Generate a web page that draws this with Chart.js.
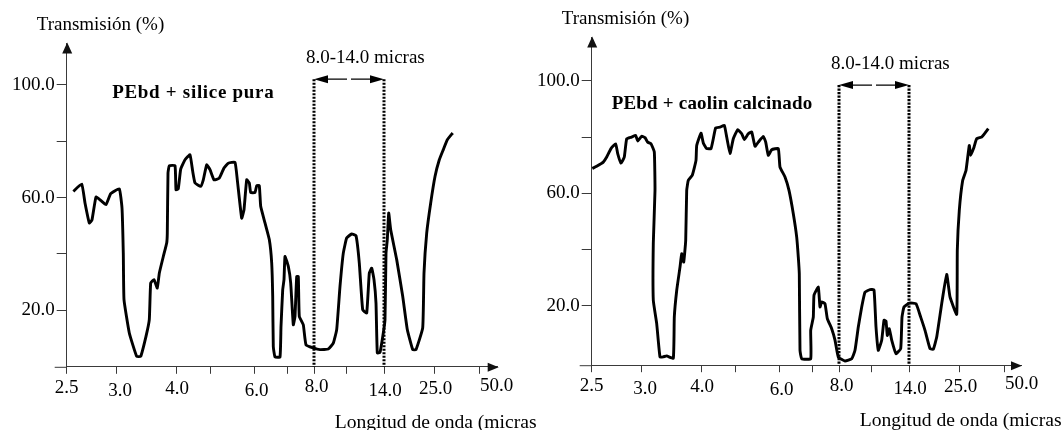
<!DOCTYPE html>
<html>
<head>
<meta charset="utf-8">
<script src="https://cdn.jsdelivr.net/npm/chart.js@4/dist/chart.umd.min.js"></script>
<style>
  html, body { margin: 0; padding: 0; background: #fff; }
  #wrap { position: relative; width: 1062px; height: 430px; overflow: hidden; background: #fff; }
  .panel { position: absolute; top: 0; }
</style>
</head>
<body>
<div id="wrap">
  <div class="panel" style="left:0px;"><canvas id="c1" width="536" height="430"></canvas></div>
  <div class="panel" style="left:531px;"><canvas id="c2" width="531" height="430"></canvas></div>
</div>
<script>
// ---------------- DATA ----------------
// x axis: position along the (non-linear) wavelength axis, in axis units; ticks below
const xTickPos    = [0, 49.5, 109.3, 143.3, 187.3, 220.6, 247.3, 280, 317.3, 367.3, 412.5];
const xTickLabels = ['2.5', '3.0', '4.0', '', '6.0', '', '8.0', '', '14.0', '25.0', '50.0'];
const yTickVals   = [20, 40, 60, 80, 100];
const yTickLabels = ['20.0', '', '60.0', '', '100.0'];
const bandLabels  = ['8.0', '14.0'];

// PEbd + silice pura
const silicaX = [6.6, 15, 18.3, 22.6, 25.3, 29.3, 34, 39.3, 44, 52.6, 55.3, 56.6, 57.3, 62.6, 70, 74, 79.3, 82.6, 84, 87.3,
  90.6, 92.6, 96.6, 100, 100.6, 101.3, 102.6, 108.3, 109.3, 111.6, 114, 118.3, 123.3, 126, 128.3, 134, 136.6, 140, 143.3, 147.3,
  152.6, 157.3, 161.6, 168.3, 170.6, 175, 177.3, 180, 182.6, 184, 188.3, 190, 192.6, 194, 198.3, 202.6, 205, 206, 206.6, 208.3,
  213.3, 214.3, 216, 217.3, 218.3, 221.6, 224, 226.6, 228.3, 230, 231.6, 232.6, 236.6, 239.3, 246.6, 253.3, 261.6, 266.6, 270, 273.3,
  276.6, 280, 285, 289.3, 292.6, 296, 300, 302.6, 305, 307.3, 309.3, 310.6, 313.3, 316.6, 318.3, 319.3, 320.6, 322, 324, 330,
  336, 340.6, 346, 349.3, 356, 357.3, 360, 364, 368.3, 372.6, 376.6, 380.6, 386];
const silicaY = [62.2, 64.8, 58.1, 51.0, 52.1, 60.2, 59.0, 57.5, 61.4, 63.1, 56.3, 40.3, 23.8, 12.0, 3.7, 3.7, 10.8, 16.7, 29.7, 30.9,
  27.9, 33.2, 39.1, 43.9, 47.4, 68.7, 71.3, 71.3, 62.8, 63.2, 70.1, 73.4, 75.2, 69.3, 65.2, 64.0, 66.3, 71.6, 69.9, 66.3,
  66.9, 70.5, 72.2, 72.5, 66.3, 52.7, 55.7, 66.3, 65.2, 61.8, 61.8, 64.2, 64.2, 56.9, 51.0, 45.1, 36.8, 25.0, 7.2, 3.5,
  3.5, 14.3, 27.3, 30.9, 39.1, 35.6, 29.7, 14.9, 17.9, 32.0, 32.0, 17.9, 14.9, 7.8, 6.7, 6.1, 6.3, 8.4, 13.2, 28.5,
  40.3, 45.7, 47.1, 46.5, 36.8, 20.2, 19.1, 33.2, 35.0, 30.9, 22.6, 4.9, 5.1, 12.0, 16.7, 40.3, 45.1, 54.5, 48.6, 38.0,
  25.0, 13.2, 6.1, 6.1, 13.8, 33.2, 47.4, 58.1, 67.5, 73.4, 77.0, 80.5, 82.9];

// PEbd + caolin calcinado
const kaolinX = [0.6, 5, 11.6, 15, 19.3, 24, 26, 29.3, 32.6, 35, 40, 44, 46, 50, 53.3, 56, 59.3, 62.6, 63.3, 61.6,
  61.6, 65, 68.3, 71.6, 75, 81.6, 82.6, 85, 88.3, 90, 92, 94, 95, 96.6, 100.6, 104.3, 105, 109.3, 111.6, 115,
  119.3, 121.6, 124, 128.3, 132.6, 135, 138.3, 141.6, 146, 150, 152.6, 156.6, 160, 163.3, 166.6, 171.6, 174, 176.6, 180, 186.6,
  188.3, 193.3, 197.3, 201.6, 205, 206.6, 207.6, 208.3, 210, 219, 219, 221.6, 222.3, 226.6, 228.3, 230, 233.3, 235.6, 240, 243.3,
  246.6, 253.3, 260, 263.3, 266.6, 270, 273.3, 278.3, 282.3, 284.3, 286.6, 290, 292.3, 294.3, 295.6, 297.6, 300, 304.3, 309, 310.3,
  312.3, 317.6, 324.3, 329, 333.3, 338.3, 341.6, 345, 350, 355, 358.3, 365, 365.6, 367.6, 371, 374.3, 377.6, 379,
  382.3, 385, 390, 393.3, 396.6];
const kaolinY = [68.8, 69.6, 71.1, 72.9, 75.9, 77.6, 74.1, 70.7, 72.9, 79.4, 80.0, 80.6, 78.6, 80.3, 79.8, 78.2, 77.6, 74.7, 61.0, 42.1,
  21.9, 13.6, 1.7, 1.8, 2.1, 1.3, 15.9, 25.4, 33.7, 38.5, 35.5, 43.2, 61.0, 64.6, 66.4, 71.7, 77.0, 81.4, 77.9, 75.9,
  75.9, 79.4, 83.3, 83.5, 84.2, 80.0, 74.1, 79.4, 82.6, 81.2, 79.1, 81.2, 81.8, 76.7, 78.2, 80.2, 78.2, 73.5, 75.5, 75.9,
  69.3, 65.8, 61.0, 52.7, 44.4, 37.3, 31.4, 4.1, 1.1, 1.1, 11.2, 15.9, 23.7, 26.6, 19.5, 21.3, 20.7, 15.4, 11.8, 7.7,
  1.7, 0.3, 1.1, 4.1, 12.4, 19.5, 24.8, 25.7, 25.6, 12.4, 4.1, 7.7, 14.8, 14.5, 9.4, 11.8, 7.7, 2.9, 4.7, 15.9,
  19.5, 20.9, 20.7, 15.9, 11.2, 4.7, 4.5, 8.8, 20.7, 31.1, 23.1, 16.9, 39.7, 53.9, 64.6, 68.1, 77.0, 73.5,
  76.4, 79.4, 80.0, 81.4, 83.0];

// ---------------- TEXT ----------------
const yTitle = 'Transmisión (%)';
const xTitle = 'Longitud de onda (micras)';
const bandText = '8.0-14.0 micras';

// ---------------- LAYOUT (positions / styles only) ----------------
const FONT = '"Liberation Serif", "Times New Roman", Times, serif';
const FS = 19;
const xLabelDx = [0, 4, 1, 0, 2.7, 0, 2.5, 0, 1, 1.5, 17.5];
const xLabelDy = [21, 24, 22, 0, 24.5, 0, 20.7, 0, 24, 22, 19.2];

const panels = [
  { id: 'c1', W: 536, axisX: 66.7, xMax: 431, top: 43.6, bottom: 366.8, yMin: 0, yMax: 114.6,
    bandTop: 102, title: 'PEbd + silice pura', titleX: 126.6, titleY: 97, titleSpacing: 0.7,
    xs: silicaX, ys: silicaY },
  { id: 'c2', W: 531, axisX: 60.7, xMax: 429.3, top: 37.6, bottom: 365.2, yMin: -1.2, yMax: 115.4,
    bandTop: 98.5, title: 'PEbd + caolin calcinado', titleX: 120.3, titleY: 91.6, titleSpacing: 0.2,
    xs: kaolinX, ys: kaolinY }
];

const AXC = '#3a3a3a';

function arrowHead(ctx, tipX, tipY, dirX, dirY, len, half) {
  const bx = tipX - dirX * len, by = tipY - dirY * len;
  const px = -dirY, py = dirX;
  ctx.beginPath();
  ctx.moveTo(tipX, tipY);
  ctx.lineTo(bx + px * half, by + py * half);
  ctx.lineTo(bx - px * half, by - py * half);
  ctx.closePath();
  ctx.fill();
}

function decorPlugin(P) {
  return {
    id: 'decor',
    afterDraw(chart) {
      const ctx = chart.ctx;
      const xs = chart.scales.x, ys = chart.scales.y;
      const ca = chart.chartArea;
      const ax = xs.getPixelForValue(0);
      ctx.save();
      ctx.strokeStyle = AXC;
      // x axis extension left of the y axis
      ctx.lineWidth = 1;
      ctx.beginPath();
      ctx.moveTo(ax - 12, ca.bottom + 0.5);
      ctx.lineTo(ax, ca.bottom + 0.5);
      ctx.stroke();
      // axis arrows
      ctx.fillStyle = '#111';
      arrowHead(ctx, ax + 0.5, ca.top - 1, 0, -1, 11, 5);
      arrowHead(ctx, ca.right + 1, ca.bottom + 0.5, 1, 0, 11, 4.5);

      // band: dotted vertical lines
      const i8 = xTickLabels.indexOf(bandLabels[0]);
      const i14 = xTickLabels.indexOf(bandLabels[1]);
      const xL = xs.getPixelForValue(xTickPos[i8]);
      const xR = xs.getPixelForValue(xTickPos[i14]);
      const yT = ys.getPixelForValue(P.bandTop);
      ctx.strokeStyle = '#000';
      ctx.lineWidth = 3;
      ctx.setLineDash([2.2, 1.3]);
      [xL, xR].forEach(x => {
        ctx.beginPath();
        ctx.moveTo(x, yT);
        ctx.lineTo(x, ca.bottom);
        ctx.stroke();
      });
      ctx.setLineDash([]);
      // double arrow
      const mid = (xL + xR) / 2;
      ctx.lineWidth = 1.3;
      ctx.beginPath();
      ctx.moveTo(xL + 6, yT); ctx.lineTo(mid - 2, yT);
      ctx.moveTo(mid + 2, yT); ctx.lineTo(xR - 6, yT);
      ctx.stroke();
      ctx.fillStyle = '#000';
      arrowHead(ctx, xL, yT, -1, 0, 14, 4);
      arrowHead(ctx, xR, yT, 1, 0, 14, 4);

      // texts
      ctx.fillStyle = '#000';
      ctx.textBaseline = 'middle';
      ctx.font = FS + 'px ' + FONT;
      ctx.textAlign = 'left';
      ctx.fillText(yTitle, ax - 30, ca.top - 18.6);
      ctx.fillText(bandText, xL - 8, yT - 21);
      ctx.font = '19.6px ' + FONT;
      ctx.fillText(xTitle, xs.getPixelForValue(268), ca.bottom + 56);
      ctx.font = FS + 'px ' + FONT;
      // x tick labels
      ctx.textAlign = 'center';
      xTickLabels.forEach((lab, i) => {
        if (!lab) return;
        ctx.fillText(lab, xs.getPixelForValue(xTickPos[i]) + xLabelDx[i], ca.bottom + xLabelDy[i]);
      });
      // panel title
      ctx.font = 'bold ' + FS + 'px ' + FONT;
      try { ctx.letterSpacing = P.titleSpacing + 'px'; } catch (e) {}
      ctx.textAlign = 'center';
      ctx.fillText(P.title, xs.getPixelForValue(P.titleX), ys.getPixelForValue(P.titleY));
      try { ctx.letterSpacing = '0px'; } catch (e) {}
      ctx.restore();
    }
  };
}

panels.forEach(P => {
  const ctx = document.getElementById(P.id).getContext('2d');
  new Chart(ctx, {
    type: 'scatter',
    data: {
      datasets: [{
        data: P.xs.map((x, i) => ({ x: x, y: P.ys[i] })),
        showLine: true,
        borderColor: '#000',
        borderWidth: 2.9,
        pointRadius: 0,
        tension: 0.12,
        fill: false
      }]
    },
    options: {
      responsive: false,
      animation: false,
      devicePixelRatio: 1,
      layout: { padding: { left: 0, top: P.top, right: P.W - (P.axisX + P.xMax), bottom: 0 } },
      plugins: { legend: { display: false }, tooltip: { enabled: false } },
      scales: {
        x: {
          type: 'linear', min: 0, max: P.xMax,
          afterFit: s => { s.height = 430 - P.bottom; },
          afterBuildTicks: s => { s.ticks = xTickPos.map(v => ({ value: v })); },
          ticks: { display: false },
          grid: { drawOnChartArea: false, drawTicks: true, tickLength: 7, color: AXC, lineWidth: 1 },
          border: { display: true, color: AXC, width: 1 }
        },
        y: {
          type: 'linear', min: P.yMin, max: P.yMax,
          afterFit: s => { s.width = P.axisX; },
          afterBuildTicks: s => { s.ticks = yTickVals.map(v => ({ value: v })); },
          ticks: {
            autoSkip: false,
            callback: v => { const k = yTickVals.indexOf(v); return k >= 0 ? yTickLabels[k] : ''; },
            font: { family: FONT, size: FS },
            color: '#000',
            padding: 2
          },
          grid: { drawOnChartArea: false, drawTicks: true, tickLength: 10, color: AXC, lineWidth: 1 },
          border: { display: true, color: AXC, width: 1 }
        }
      }
    },
    plugins: [decorPlugin(P)]
  });
});
</script>
</body>
</html>
